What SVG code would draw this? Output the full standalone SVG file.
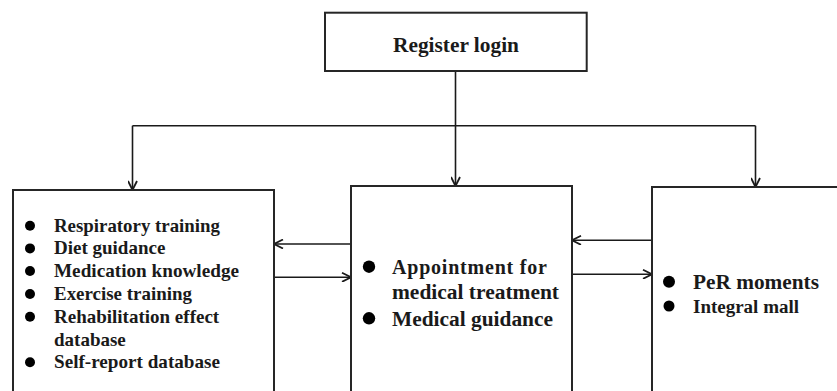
<svg xmlns="http://www.w3.org/2000/svg" width="837" height="391" viewBox="0 0 837 391">
  <defs>
    <style>
      .box { fill: #ffffff; stroke: #262626; stroke-width: 2; }
      .conn { fill: none; stroke: #1a1a1a; stroke-width: 1.6; }
      .t { font-family: "Liberation Serif", "Times New Roman", serif; font-weight: bold; fill: #1a1a1a; }
      .dot { fill: #000000; }
    </style>
    <marker id="arr" viewBox="0 0 10 10" refX="10" refY="5" markerWidth="10" markerHeight="10" markerUnits="userSpaceOnUse" orient="auto">
      <path d="M1,0.5 L10,5 L1,9.5" fill="none" stroke="#1a1a1a" stroke-width="1.8"/>
    </marker>
  </defs>

  <g id="connectors">
    <path class="conn" d="M455.5,71 V186" marker-end="url(#arr)"/>
    <path class="conn" d="M132.5,125.7 H755.5"/>
    <path class="conn" d="M132.5,125.7 V190" marker-end="url(#arr)"/>
    <path class="conn" d="M755.5,125.7 V187" marker-end="url(#arr)"/>
    <path class="conn" d="M351,244 H274" marker-end="url(#arr)"/>
    <path class="conn" d="M274,277.3 H351" marker-end="url(#arr)"/>
    <path class="conn" d="M652,240.3 H572" marker-end="url(#arr)"/>
    <path class="conn" d="M572,274.3 H652" marker-end="url(#arr)"/>
  </g>

  <g id="register-login">
    <rect class="box" x="325" y="12.7" width="261.7" height="58.3"/>
    <text class="t" x="456" y="51.7" font-size="21" text-anchor="middle" textLength="126" lengthAdjust="spacingAndGlyphs">Register login</text>
  </g>

  <g id="left-module">
    <rect class="box" x="13" y="190" width="261" height="210"/>
    <circle class="dot" cx="30" cy="225.7" r="5"/>
    <text class="t" x="54" y="231.7" font-size="19" textLength="166" lengthAdjust="spacingAndGlyphs">Respiratory training</text>
    <circle class="dot" cx="30" cy="248.4" r="5"/>
    <text class="t" x="54" y="254.4" font-size="19">Diet guidance</text>
    <circle class="dot" cx="30" cy="271" r="5"/>
    <text class="t" x="54" y="277" font-size="19" textLength="185" lengthAdjust="spacingAndGlyphs">Medication knowledge</text>
    <circle class="dot" cx="30" cy="294" r="5"/>
    <text class="t" x="54" y="300" font-size="19" textLength="138" lengthAdjust="spacingAndGlyphs">Exercise training</text>
    <circle class="dot" cx="30" cy="316.7" r="5"/>
    <text class="t" x="54" y="322.7" font-size="19">Rehabilitation effect</text>
    <text class="t" x="54" y="345.7" font-size="19">database</text>
    <circle class="dot" cx="30" cy="362.3" r="5"/>
    <text class="t" x="54" y="368.3" font-size="19" textLength="166" lengthAdjust="spacingAndGlyphs">Self-report database</text>
  </g>

  <g id="center-module">
    <rect class="box" x="351" y="186" width="221" height="214"/>
    <circle class="dot" cx="369" cy="266.7" r="6.2"/>
    <text class="t" x="392" y="274" font-size="20" textLength="155" lengthAdjust="spacing">Appointment  for</text>
    <text class="t" x="392" y="299.3" font-size="20" textLength="167" lengthAdjust="spacingAndGlyphs">medical treatment</text>
    <circle class="dot" cx="369" cy="318.3" r="6.2"/>
    <text class="t" x="392" y="326" font-size="20" textLength="161" lengthAdjust="spacingAndGlyphs">Medical guidance</text>
  </g>

  <g id="right-module">
    <rect class="box" x="652" y="187" width="200" height="213"/>
    <circle class="dot" cx="669" cy="281.7" r="6"/>
    <text class="t" x="693" y="289.3" font-size="20.5" textLength="126" lengthAdjust="spacingAndGlyphs">PeR moments</text>
    <circle class="dot" cx="669" cy="306" r="5.5"/>
    <text class="t" x="693" y="312.7" font-size="18" textLength="106" lengthAdjust="spacingAndGlyphs">Integral mall</text>
  </g>
</svg>
